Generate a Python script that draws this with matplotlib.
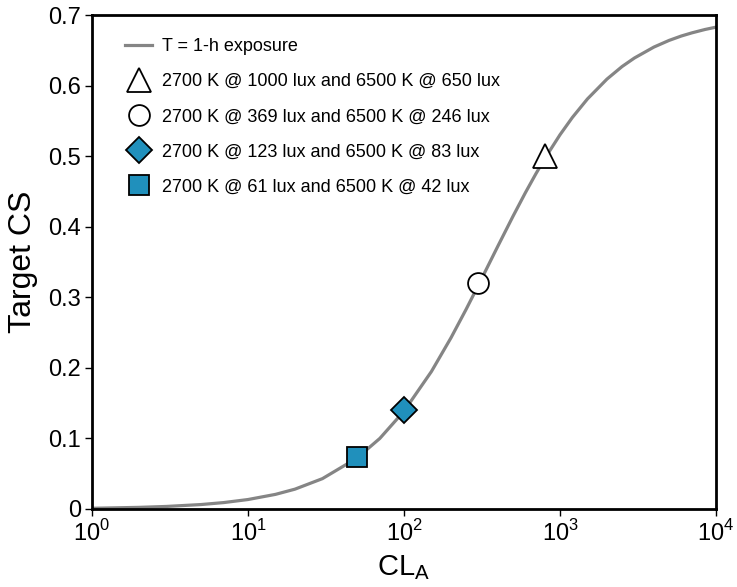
import matplotlib
matplotlib.use("Agg")
import matplotlib.pyplot as plt

plt.rcParams["font.family"] = ["Liberation Sans", "DejaVu Sans"]
plt.rcParams["mathtext.fontset"] = "custom"
plt.rcParams["mathtext.rm"] = "Liberation Sans"

# curve values (CL_A, target CS)
cla = [1, 2, 3, 5, 7, 10, 15, 20, 30, 50, 70, 100, 150, 200, 250, 300, 350,
       400, 500, 600, 700, 800, 1000, 1200, 1500, 2000, 2500, 3000, 4000,
       5000, 6000, 7000, 8500, 10000]
cs = [0.001, 0.0023, 0.0036, 0.0063, 0.0091, 0.0134, 0.0207, 0.0281, 0.043,
      0.0722, 0.100, 0.1386, 0.1949, 0.2425, 0.2828, 0.3172, 0.3469, 0.3726,
      0.4149, 0.4482, 0.4749, 0.4968, 0.5303, 0.5548, 0.5811, 0.6092, 0.627,
      0.6391, 0.6546, 0.664, 0.6703, 0.6747, 0.6795, 0.6828]

labels = [
    "2700 K @ 1000 lux and 6500 K @ 650 lux",
    "2700 K @ 369 lux and 6500 K @ 246 lux",
    "2700 K @ 123 lux and 6500 K @ 83 lux",
    "2700 K @ 61 lux and 6500 K @ 42 lux",
]
point_x = [800, 300, 100, 50]
point_y = [0.50, 0.32, 0.14, 0.073]
markers = ["^", "o", "D", "s"]
faces = ["white", "white", "#2090bc", "#2090bc"]
sizes = [17, 15, 13, 15]

fig = plt.figure(figsize=(7.37, 5.87), dpi=100)
ax = fig.add_axes([0.1248, 0.1329, 0.8467, 0.8415])

ax.plot(cla, cs, color="#858585", lw=2.3, label="T = 1-h exposure", zorder=2)
for x, y, m, fc, s, lab in zip(point_x, point_y, markers, faces, sizes, labels):
    ax.plot([x], [y], ls="none", marker=m, ms=s, mfc=fc, mec="black",
            mew=1.3, label=lab, zorder=3)

ax.set_xscale("log")
ax.set_xlim(1, 1e4)
ax.set_ylim(0, 0.7)
ax.set_xticks([1, 10, 100, 1000, 10000])
ax.set_xticklabels([r"10$^{%d}$" % i for i in range(5)])
ax.minorticks_off()
ax.set_yticks([0, 0.1, 0.2, 0.3, 0.4, 0.5, 0.6, 0.7])
ax.set_yticklabels(["0", "0.1", "0.2", "0.3", "0.4", "0.5", "0.6", "0.7"])
ax.tick_params(labelsize=17, length=5, width=1, pad=3)
for sp in ax.spines.values():
    sp.set_linewidth(2)

ax.set_xlabel(r"CL$_\mathrm{A}$", fontsize=21, labelpad=5)
ax.set_ylabel("Target CS", fontsize=23, labelpad=7)

ax.legend(loc="upper left", frameon=False, fontsize=13, handlelength=1.5,
          handletextpad=0.55, labelspacing=1.0, borderaxespad=0,
          borderpad=0, bbox_to_anchor=(0.053, 0.953))

fig.savefig("out.png", dpi=100)
